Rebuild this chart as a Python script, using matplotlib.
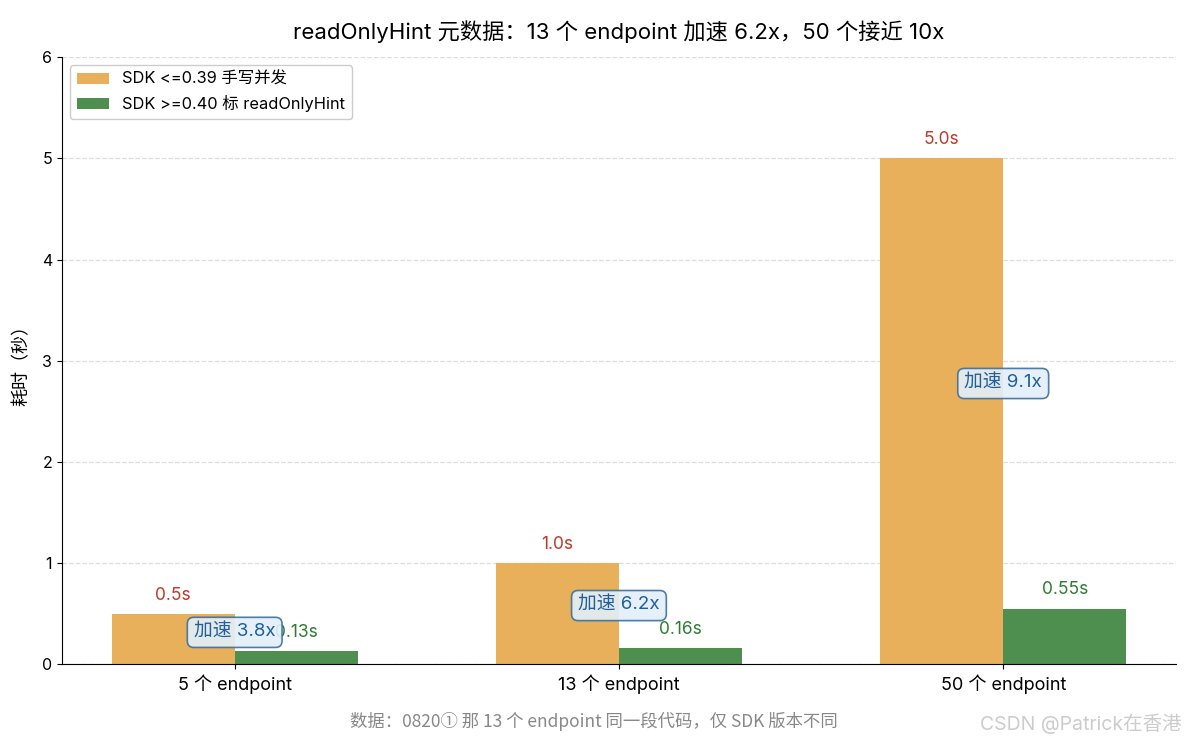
import matplotlib
matplotlib.use("Agg")
import matplotlib.pyplot as plt
import numpy as np

plt.rcParams['font.family'] = ['Inter', 'Noto Sans CJK SC', 'DejaVu Sans']
plt.rcParams['axes.unicode_minus'] = False

# data
groups = ["5 个 endpoint", "13 个 endpoint", "50 个 endpoint"]
old_sdk = [0.5, 1.0, 5.0]
new_sdk = [0.13, 0.16, 0.55]
old_labels = ["0.5s", "1.0s", "5.0s"]
new_labels = ["0.13s", "0.16s", "0.55s"]
speedups = ["3.8x", "6.2x", "9.1x"]

c_old = "#E8B05A"
c_new = "#4E8F50"

fig, ax = plt.subplots(figsize=(11.88, 7.43), dpi=100)
x = np.arange(len(groups))
w = 0.32

ax.bar(x - w / 2, old_sdk, w, color=c_old, label="SDK <=0.39 手写并发", zorder=2)
ax.bar(x + w / 2, new_sdk, w, color=c_new, label="SDK >=0.40 标 readOnlyHint", zorder=2)

for i in range(len(groups)):
    ax.text(x[i] - w / 2, old_sdk[i] + 0.1, old_labels[i], ha="center", va="bottom",
            color="#C0392B", fontsize=12.5)
    ax.text(x[i] + w / 2, new_sdk[i] + 0.1, new_labels[i], ha="center", va="bottom",
            color="#2E7D32", fontsize=12.5)
    mid = (old_sdk[i] + new_sdk[i]) / 2
    ax.text(x[i], mid, f"加速 {speedups[i]}", ha="center", va="center", color="#1F5F9F",
            fontsize=13.5, zorder=5,
            bbox=dict(boxstyle="round,pad=0.35", fc="#E3EFFA", ec="#3A6FA0", lw=1.2, alpha=0.9))

ax.set_xticks(x)
ax.set_xticklabels(groups, fontsize=13)
ax.set_xlim(-0.45, 2.45)
ax.set_ylim(0, 6)
ax.tick_params(axis="y", labelsize=11.5)
ax.set_ylabel("耗时（秒）", fontsize=13, labelpad=8)
ax.set_title("readOnlyHint 元数据：13 个 endpoint 加速 6.2x，50 个接近 10x", fontsize=16, pad=13)
ax.grid(axis="y", linestyle="--", color="#DDDDDD", lw=0.9, zorder=0)
ax.spines["top"].set_visible(False)
ax.spines["right"].set_visible(False)
ax.legend(loc="upper left", fontsize=11.8, framealpha=1, edgecolor="#CCCCCC")

fig.text(0.5, 0.022, "数据：0820① 那 13 个 endpoint 同一段代码，仅 SDK 版本不同",
         ha="center", color="#888888", fontsize=12.5, family=['Noto Sans CJK SC', 'DejaVu Sans'])
fig.text(0.995, 0.018, "CSDN @Patrick在香港", ha="right", color="#CCCCCC", fontsize=14)

fig.subplots_adjust(left=0.052, right=0.99, top=0.923, bottom=0.106)
fig.savefig("out.png", dpi=100)
